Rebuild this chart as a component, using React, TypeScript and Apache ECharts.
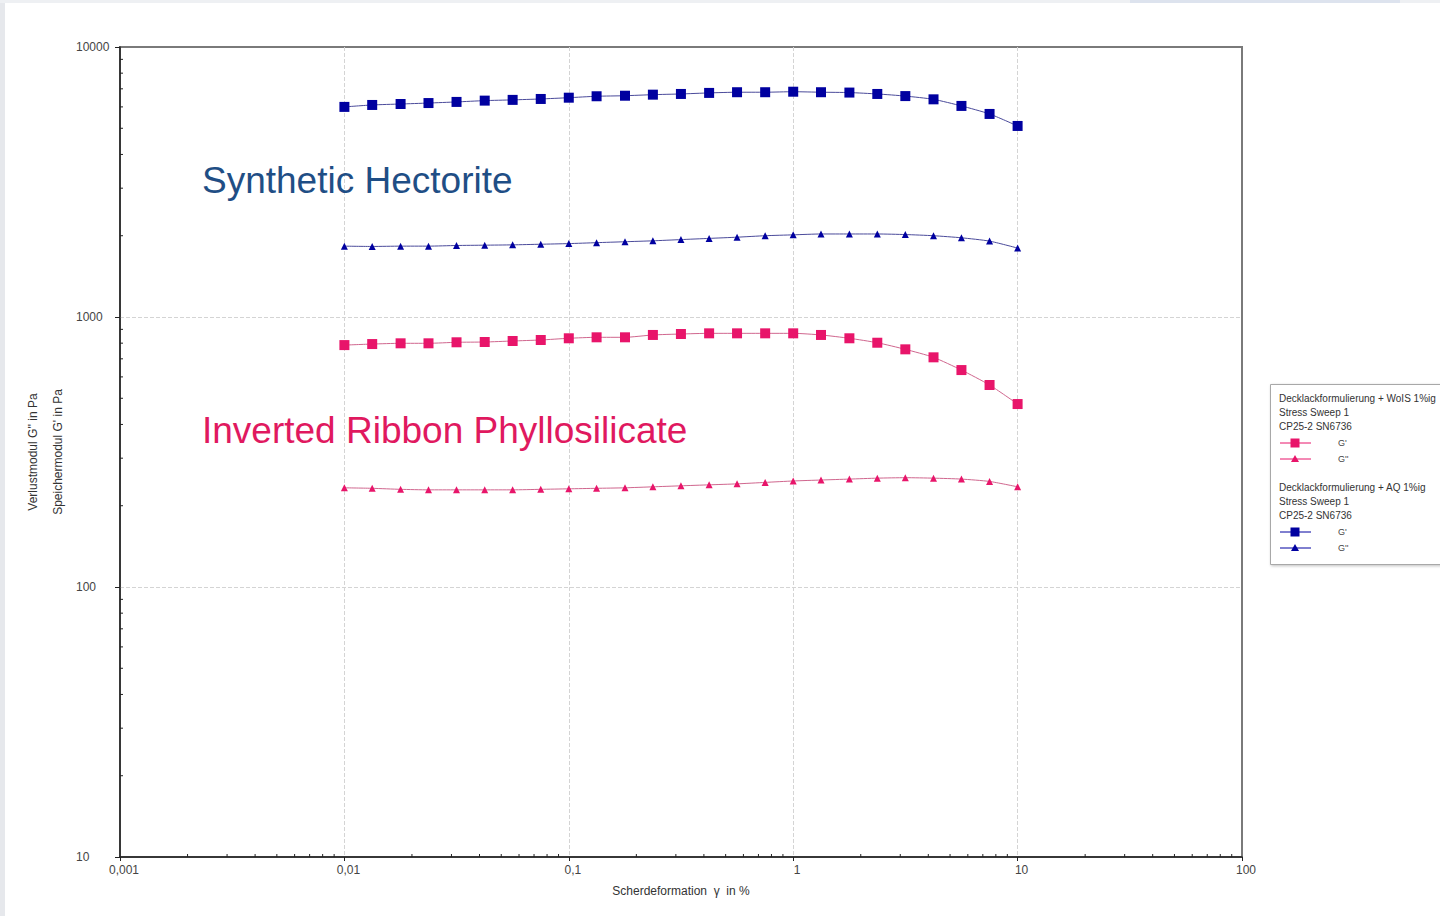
import React, { useEffect, useRef } from 'react';
import * as echarts from 'echarts';

// Shear strain γ in %
const strain = [
  0.01, 0.0133, 0.0178, 0.0237, 0.0316, 0.0422, 0.0562, 0.075,
  0.1, 0.133, 0.178, 0.237, 0.316, 0.422, 0.562, 0.75,
  1, 1.33, 1.78, 2.37, 3.16, 4.22, 5.62, 7.5, 10,
];

// Synthetic Hectorite (AQ 1%ig) – blue
const gPrimeAQ = [
  6000, 6100, 6150, 6200, 6260, 6330, 6370, 6420, 6490, 6570, 6600, 6660,
  6700, 6760, 6800, 6800, 6830, 6800, 6780, 6700, 6580, 6400, 6050, 5650, 5100,
];
const gDoublePrimeAQ = [
  1830, 1825, 1830, 1830, 1840, 1845, 1850, 1860, 1870, 1885, 1900, 1915,
  1935, 1955, 1975, 2000, 2015, 2030, 2030, 2030, 2020, 2000, 1965, 1910, 1800,
];

// Inverted Ribbon Phyllosilicate (WoIS 1%ig) – pink
const gPrimeWoIS = [
  787, 794, 799, 799, 806, 808, 815, 822, 834, 841, 841, 858,
  865, 870, 870, 870, 870, 858, 834, 803, 759, 709, 636, 560, 476,
];
const gDoublePrimeWoIS = [
  233, 232, 230, 229, 229, 229, 229, 230, 231, 232, 233, 235,
  237, 239, 241, 244, 247, 249, 251, 253, 254, 253, 251, 246, 235,
];

const xTickLabels = ['0,001', '0,01', '0,1', '1', '10', '100'];
const yTickLabels = ['10', '100', '1000', '10000'];
const minorSteps = [2, 3, 4, 5, 6, 7, 8, 9];
const xDecades = [0.001, 0.01, 0.1, 1, 10];
const yDecades = [10, 100, 1000];

const BLUE = '#0000a0';
const PINK = '#e8156a';
const FONT = '"Liberation Sans", Arial, sans-serif';

const xMinor: number[] = [];
xDecades.forEach((d) => minorSteps.forEach((s) => xMinor.push(d * s)));
const yMinor: number[] = [];
yDecades.forEach((d) => minorSteps.forEach((s) => yMinor.push(d * s)));

function legendEntry(y: number, color: string, square: boolean, label: string) {
  const cx = 1295;
  const items: any[] = [
    {
      type: 'line',
      shape: { x1: 1280, y1: y, x2: 1311, y2: y },
      style: { stroke: color, lineWidth: 1 },
      z: 31,
    },
  ];
  if (square) {
    items.push({
      type: 'rect',
      shape: { x: cx - 4.5, y: y - 4.5, width: 9, height: 9 },
      style: { fill: color },
      z: 32,
    });
  } else {
    items.push({
      type: 'polygon',
      shape: { points: [[cx, y - 4], [cx - 4, y + 3], [cx + 4, y + 3]] },
      style: { fill: color },
      z: 32,
    });
  }
  items.push({
    type: 'text',
    x: 1338,
    y,
    style: { text: label, font: `9px ${FONT}`, fill: '#444', verticalAlign: 'middle' },
    z: 32,
  });
  return items;
}

function legendText(y: number, text: string) {
  return {
    type: 'text',
    x: 1279,
    y,
    style: { text, font: `10px ${FONT}`, fill: '#333', verticalAlign: 'middle' },
    z: 32,
  };
}

export default function App() {
  const ref = useRef<HTMLDivElement>(null);

  useEffect(() => {
    document.body.style.margin = '0';
    if (!ref.current) return;
    const chart = echarts.init(ref.current, null, { renderer: 'svg' });

    const pairs = (ys: number[]) => strain.map((x, i) => [x, ys[i]]);

    const option: any = {
      animation: false,
      backgroundColor: '#ffffff',
      grid: {
        left: 120,
        top: 47,
        right: 198,
        bottom: 59,
        show: true,
        borderColor: '#7a7a7a',
        borderWidth: 2,
        backgroundColor: 'transparent',
      },
      xAxis: {
        type: 'log',
        logBase: 10,
        min: 0.001,
        max: 100,
        name: 'Scherdeformation  γ  in %',
        nameLocation: 'middle',
        nameGap: 28,
        nameTextStyle: { fontSize: 12, color: '#333', fontFamily: FONT },
        axisLine: { show: true, lineStyle: { color: '#222', width: 1.5 } },
        axisTick: { show: true, length: 4, lineStyle: { color: '#222' } },
        axisLabel: {
          fontSize: 12,
          color: '#444',
          fontFamily: FONT,
          margin: 7,
          padding: [0, 0, 0, 8],
          formatter: (v: number) => xTickLabels[Math.round(Math.log10(v)) + 3] ?? '',
        },
        splitLine: {
          show: true,
          showMinLine: false,
          showMaxLine: false,
          lineStyle: { color: '#d4d4d4', type: 'dashed', width: 1 },
        },
      },
      yAxis: {
        type: 'log',
        logBase: 10,
        min: 10,
        max: 10000,
        axisLine: { show: true, lineStyle: { color: '#222', width: 1.5 } },
        axisTick: { show: true, length: 5, lineStyle: { color: '#222' } },
        axisLabel: {
          fontSize: 12,
          color: '#444',
          fontFamily: FONT,
          align: 'left',
          margin: 44,
          formatter: (v: number) => yTickLabels[Math.round(Math.log10(v)) - 1] ?? '',
        },
        splitLine: {
          show: true,
          showMinLine: false,
          showMaxLine: false,
          lineStyle: { color: '#d4d4d4', type: 'dashed', width: 1 },
        },
      },
      series: [
        {
          type: 'custom',
          silent: true,
          clip: false,
          z: 5,
          data: xMinor.map((v) => [v, 10]),
          renderItem: (params: any, api: any) => {
            const p = api.coord([api.value(0), api.value(1)]);
            return {
              type: 'line',
              shape: { x1: p[0], y1: p[1], x2: p[0], y2: p[1] - 3 },
              style: { stroke: '#222', lineWidth: 1 },
            };
          },
        },
        {
          type: 'custom',
          silent: true,
          clip: false,
          z: 5,
          data: yMinor.map((v) => [0.001, v]),
          renderItem: (params: any, api: any) => {
            const p = api.coord([api.value(0), api.value(1)]);
            return {
              type: 'line',
              shape: { x1: p[0], y1: p[1], x2: p[0] + 3, y2: p[1] },
              style: { stroke: '#222', lineWidth: 1 },
            };
          },
        },
        {
          name: "G' AQ",
          type: 'line',
          data: pairs(gPrimeAQ),
          smooth: 0.2,
          symbol: 'rect',
          symbolSize: 10,
          itemStyle: { color: BLUE },
          lineStyle: { color: '#4a4a9a', width: 1 },
          z: 10,
        },
        {
          name: "G'' AQ",
          type: 'line',
          data: pairs(gDoublePrimeAQ),
          smooth: 0.2,
          symbol: 'triangle',
          symbolSize: 7,
          itemStyle: { color: BLUE },
          lineStyle: { color: '#4a4a9a', width: 1 },
          z: 10,
        },
        {
          name: "G' WoIS",
          type: 'line',
          data: pairs(gPrimeWoIS),
          smooth: 0.2,
          symbol: 'rect',
          symbolSize: 10,
          itemStyle: { color: PINK },
          lineStyle: { color: '#d0668e', width: 1 },
          z: 10,
        },
        {
          name: "G'' WoIS",
          type: 'line',
          data: pairs(gDoublePrimeWoIS),
          smooth: 0.2,
          symbol: 'triangle',
          symbolSize: 7,
          itemStyle: { color: PINK },
          lineStyle: { color: '#d0668e', width: 1 },
          z: 10,
        },
      ],
      graphic: [
        // page edges
        { type: 'rect', shape: { x: 0, y: 0, width: 5, height: 916 }, style: { fill: '#e6e8ec' }, z: 0 },
        { type: 'rect', shape: { x: 0, y: 0, width: 1440, height: 3 }, style: { fill: '#eef0f3' }, z: 0 },
        { type: 'rect', shape: { x: 1130, y: 0, width: 270, height: 3 }, style: { fill: '#dde3ee' }, z: 0 },
        // annotations
        {
          type: 'text',
          x: 202,
          y: 180,
          style: {
            text: 'Synthetic Hectorite',
            font: `37px ${FONT}`,
            fill: '#1f4e85',
            verticalAlign: 'middle',
          },
          z: 20,
        },
        {
          type: 'text',
          x: 202,
          y: 430,
          style: {
            text: 'Inverted Ribbon Phyllosilicate',
            font: `37px ${FONT}`,
            fill: '#e0195f',
            verticalAlign: 'middle',
          },
          z: 20,
        },
        // y axis titles
        {
          type: 'text',
          x: 33,
          y: 452,
          rotation: Math.PI / 2,
          style: {
            text: "Verlustmodul G'' in Pa",
            font: `12px ${FONT}`,
            fill: '#333',
            align: 'center',
            verticalAlign: 'middle',
          },
        },
        {
          type: 'text',
          x: 58,
          y: 452,
          rotation: Math.PI / 2,
          style: {
            text: "Speichermodul G' in Pa",
            font: `12px ${FONT}`,
            fill: '#333',
            align: 'center',
            verticalAlign: 'middle',
          },
        },
        // legend box
        {
          type: 'rect',
          shape: { x: 1270.5, y: 384.5, width: 200, height: 180 },
          style: {
            fill: '#fff',
            stroke: '#a8a8a8',
            lineWidth: 1,
            shadowBlur: 3,
            shadowColor: 'rgba(0,0,0,0.25)',
            shadowOffsetX: 1,
            shadowOffsetY: 1,
          },
          z: 30,
        },
        legendText(398, 'Decklackformulierung + WoIS 1%ig'),
        legendText(412, 'Stress Sweep 1'),
        legendText(426, 'CP25-2 SN6736'),
        ...legendEntry(443, PINK, true, "G'"),
        ...legendEntry(459, PINK, false, "G''"),
        legendText(487, 'Decklackformulierung + AQ 1%ig'),
        legendText(501, 'Stress Sweep 1'),
        legendText(515, 'CP25-2 SN6736'),
        ...legendEntry(532, BLUE, true, "G'"),
        ...legendEntry(548, BLUE, false, "G''"),
      ],
    };

    chart.setOption(option);
    return () => chart.dispose();
  }, []);

  return <div ref={ref} style={{ width: 1440, height: 916 }} />;
}
